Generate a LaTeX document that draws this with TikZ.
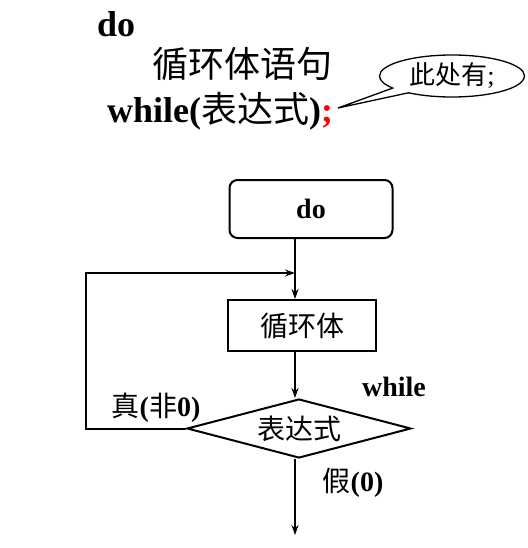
\documentclass[tikz,border=0pt]{standalone}
\usepackage{fontspec}
\setmainfont{Liberation Serif}
\newfontfamily\cjk{Noto Sans CJK SC}
\usetikzlibrary{shapes.geometric,shapes.callouts,arrows.meta}
\begin{document}
\begin{tikzpicture}[x=1pt, y=-1pt,
  big/.style={font=\fontsize{36}{40}\selectfont, inner sep=0pt},
  lbl/.style={font=\fontsize{28}{32}\selectfont, inner sep=0pt},
  box/.style={draw, line width=2pt, inner sep=0pt},
  arr/.style={line width=2pt, -{Stealth[length=10pt,width=7pt]}}]
\useasboundingbox (0,0) rectangle (527,548);
% the code lines
\node[big, anchor=base west] (kdo) at (97,37) {\bfseries do};
\node[big, anchor=base west] (kbody) at (152,78) {\cjk 循环体语句};
\node[big, anchor=base west] (kwhile) at (107,123)
  {\bfseries while(\mdseries\cjk 表达式\bfseries\rmfamily )\textcolor{red}{;}};
\coordinate (tip) at (338,108);
\node[ellipse callout, draw, line width=1.3pt, inner sep=0pt,
  minimum width=145pt, minimum height=42pt,
  callout absolute pointer={(tip)}, callout pointer arc=18,
  font=\fontsize{26}{30}\selectfont] (note) at (452,76) {{\cjk 此处有};};
% flow chart
\node[box, rounded corners=8pt, minimum width=163pt, minimum height=58pt,
  lbl] (do) at (311,209) {\bfseries do};
\node[box, minimum width=148pt, minimum height=51pt, lbl] (body) at (302,325.5) {\cjk 循环体};
\node[box, diamond, aspect=3.8, minimum width=224pt, minimum height=59pt,
  lbl] (cond) at (299,428.5) {\cjk 表达式};
\coordinate (col) at (295,0);
\coordinate (back) at (86,273);
\coordinate (exit) at (295,535);
\draw[arr] (do.south -| col) -- (body.north -| col);
\draw[arr] (body.south -| col) -- (cond.north -| col);
\draw[arr] (cond.west) -- (back |- cond.west) -- (back) -- (back -| col);
\draw[arr] (cond.south -| col) -- (exit);
\node[lbl] (true) at (156,408) {{\cjk 真}\bfseries(\mdseries{\cjk 非}\bfseries 0)};
\node[lbl] (kw) at (394,387) {\bfseries while};
\node[lbl] (false) at (353,483) {{\cjk 假}\bfseries(0)};
\end{tikzpicture}
\end{document}
